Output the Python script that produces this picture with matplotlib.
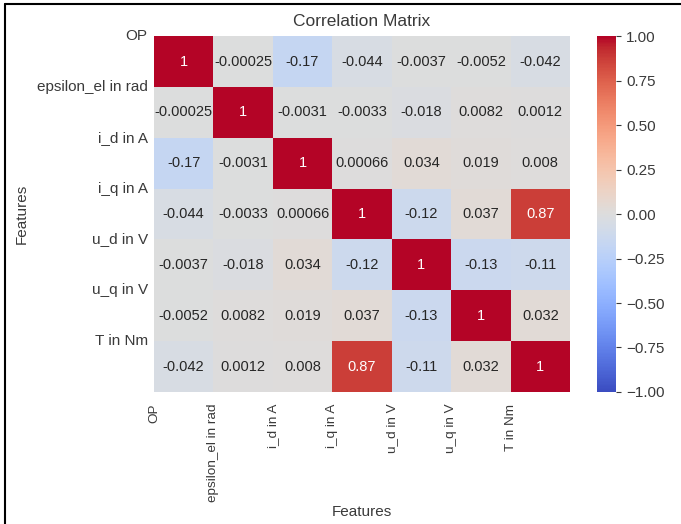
import matplotlib
matplotlib.use('Agg')
import matplotlib.pyplot as plt
import seaborn as sns
import pandas as pd
from matplotlib.lines import Line2D

features = ['OP', 'epsilon_el in rad', 'i_d in A', 'i_q in A', 'u_d in V', 'u_q in V', 'T in Nm']
row_op = [1, -0.00025, -0.17, -0.044, -0.0037, -0.0052, -0.042]
row_eps = [-0.00025, 1, -0.0031, -0.0033, -0.018, 0.0082, 0.0012]
row_id = [-0.17, -0.0031, 1, 0.00066, 0.034, 0.019, 0.008]
row_iq = [-0.044, -0.0033, 0.00066, 1, -0.12, 0.037, 0.87]
row_ud = [-0.0037, -0.018, 0.034, -0.12, 1, -0.13, -0.11]
row_uq = [-0.0052, 0.0082, 0.019, 0.037, -0.13, 1, 0.032]
row_t = [-0.042, 0.0012, 0.008, 0.87, -0.11, 0.032, 1]

corr = pd.DataFrame([row_op, row_eps, row_id, row_iq, row_ud, row_uq, row_t],
                    index=features, columns=features)

sns.set_style('white')
plt.rcParams['font.family'] = ['Liberation Sans', 'DejaVu Sans']
plt.rcParams['text.color'] = '#3a3a3a'
plt.rcParams['axes.labelcolor'] = '#3a3a3a'
plt.rcParams['xtick.color'] = '#3a3a3a'
plt.rcParams['ytick.color'] = '#3a3a3a'

fs = 11
fig = plt.figure(figsize=(6.81, 5.24), dpi=100)
ax = fig.add_axes([0.226, 0.252, 0.611, 0.679])
cax = fig.add_axes([0.877, 0.252, 0.028, 0.679])

sns.heatmap(corr, annot=True, cmap='coolwarm', vmin=-1, vmax=1, ax=ax, cbar_ax=cax,
            annot_kws={'fontsize': 10.5})

# Подписи осей (смещены к краям ячеек, как в оригинале)
ax.set_xticks(range(len(features)))
ax.set_xticklabels(features, rotation=90, fontsize=9.7)
ax.set_yticks(range(len(features)))
ax.set_yticklabels(features, rotation=0, fontsize=fs)
ax.tick_params(axis='x', length=0, pad=8.5)
ax.tick_params(axis='y', length=0, pad=4.5)
ax.set_xlabel('Features', fontsize=fs)
ax.set_ylabel('Features', fontsize=fs)
ax.xaxis.set_label_coords(0.5, -0.317)
ax.yaxis.set_label_coords(-0.30, 0.5)
ax.set_title('Correlation Matrix', fontsize=12.5, pad=7)
cax.tick_params(labelsize=fs)

# Рамка сверху и слева
fig.lines.append(Line2D([0.008, 0.008], [0, 0.993], transform=fig.transFigure, color='black', lw=1.5))
fig.lines.append(Line2D([0.008, 1], [0.993, 0.993], transform=fig.transFigure, color='black', lw=1.5))

fig.savefig('out.png', dpi=100)
